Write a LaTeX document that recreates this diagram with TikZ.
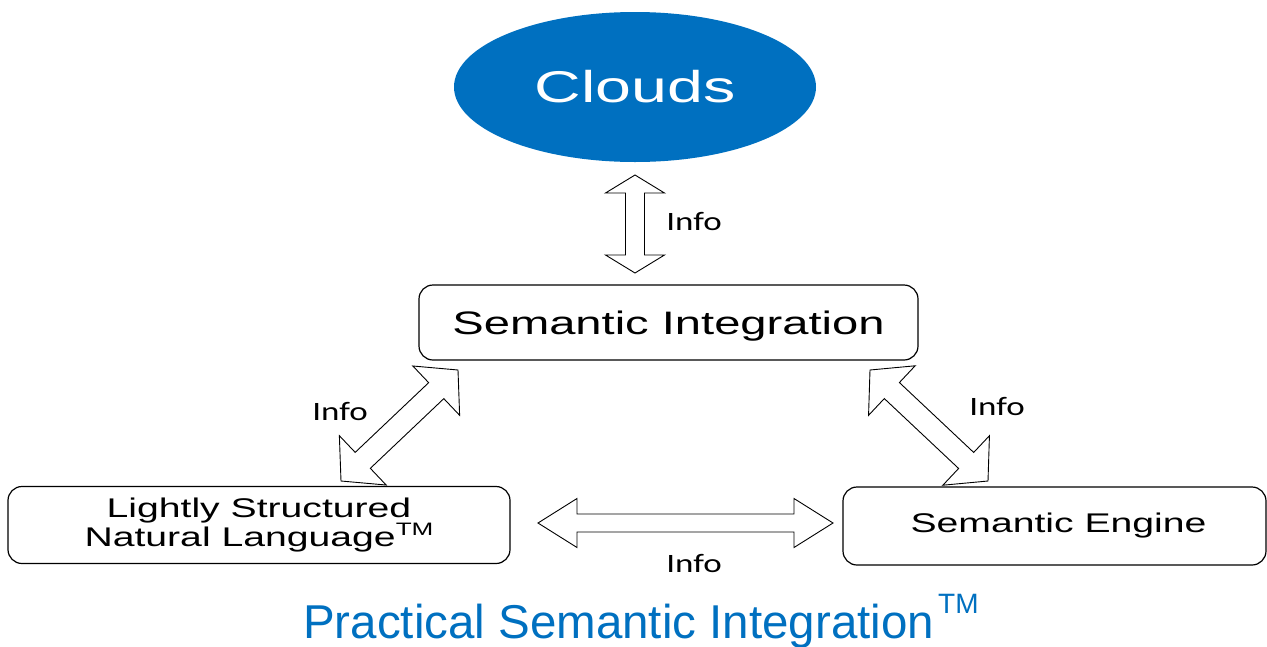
\documentclass[tikz,border=0pt]{standalone}
\usepackage{fontspec}
\setmainfont{Liberation Sans}
\newfontfamily\wideface[FakeStretch=1.45]{Liberation Sans}
\newfontfamily\infoface[FakeStretch=1.32]{Carlito}
\usetikzlibrary{calc,shapes.geometric}
\definecolor{cloudblue}{HTML}{0070C0}
\newcommand\tmark{\raisebox{11pt}{\fontsize{18}{18}\selectfont TM}}

\begin{document}
\begin{tikzpicture}[x=1pt,y=-1pt,
    box/.style={draw,rounded corners=14pt,line width=1.2pt,inner sep=0pt,font=\wideface\fontsize{27}{29}\selectfont},
    info/.style={font=\infoface\fontsize{26.5}{30}\selectfont,inner sep=0pt},
    hollow/.style={draw,line width=0.9pt,fill=white,line join=miter}]

    \def\dblarrow#1#2#3#4#5{
      % #1,#2 tips, #3 head length, #4 head half width, #5 shaft half width
      \coordinate (ha) at ($(#1)!#3!(#2)$);
      \coordinate (hb) at ($(#2)!#3!(#1)$);
      \draw[hollow] (#1) -- ($(ha)!#4!90:(#2)$) -- ($(ha)!#5!90:(#2)$)
        -- ($(hb)!#5!-90:(#1)$) -- ($(hb)!#4!-90:(#1)$) -- (#2)
        -- ($(hb)!#4!90:(#1)$) -- ($(hb)!#5!90:(#1)$)
        -- ($(ha)!#5!-90:(#2)$) -- ($(ha)!#4!-90:(#2)$) -- cycle;
    }

    \useasboundingbox (0,0) rectangle (1267,646);

    \node[ellipse,fill=cloudblue,minimum width=362pt,minimum height=150pt,inner sep=0pt,
      text=white,font=\wideface\fontsize{44.5}{48}\selectfont] (clouds) at (635,87) {Clouds};
    \node[box,minimum width=499pt,minimum height=75pt,text depth=0pt,
      font=\wideface\fontsize{32.5}{36}\selectfont] (integ) at (668.5,322.5) {Semantic Integration};
    \node[box,minimum width=502pt,minimum height=77pt,align=center] (lsnl) at (259,525)
      {Lightly Structured\\Natural Language\tmark};
    \node[box,minimum width=423pt,minimum height=78pt] (engine) at (1054.5,526) {\hspace{8pt}Semantic Engine};

    % arrow tips
    \coordinate (cloudend) at (635,175);
    \coordinate (integtop) at (635,273);
    \coordinate (integleft) at (458,370);
    \coordinate (lsnltop) at (341,481);
    \coordinate (integright) at (870,370);
    \coordinate (enginetop) at (988,481);
    \coordinate (lsnlright) at (538,523);
    \coordinate (engineleft) at (833,523);

    \dblarrow{cloudend}{integtop}{18pt}{29.5pt}{9.5pt}
    \dblarrow{integleft}{lsnltop}{30pt}{34pt}{11pt}
    \dblarrow{integright}{enginetop}{30pt}{34pt}{11pt}
    \dblarrow{lsnlright}{engineleft}{39pt}{24.5pt}{9pt}

    \node[info] (info1) at (694,222) {Info};
    \node[info] (info2) at (340,412) {Info};
    \node[info] (info3) at (997,406) {Info};
    \node[info] (info4) at (694,563) {Info};

    \node[anchor=base west,inner sep=0pt,text=cloudblue,font=\fontsize{47.5}{50}\selectfont] (title) at (303,638)
      {Practical Semantic Integration\hspace{4pt}\raisebox{25pt}{\fontsize{28}{28}\selectfont TM}};

  \end{tikzpicture}
\end{document}
